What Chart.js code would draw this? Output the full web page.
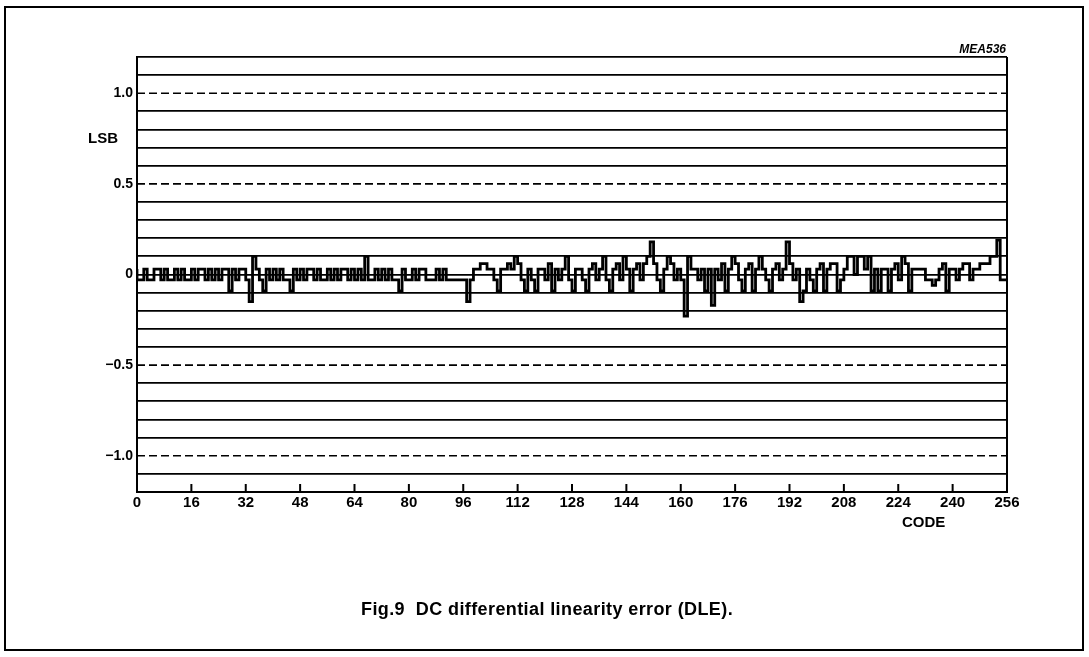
<!DOCTYPE html>
<html>
<head>
<meta charset="utf-8">
<script src="https://cdn.jsdelivr.net/npm/chart.js@4/dist/chart.umd.min.js"></script>
<style>
  body { margin: 0; background: #fff; font-family: "Liberation Sans", Arial, sans-serif; }
  #page { position: relative; width: 1089px; height: 657px; overflow: hidden; }
  #frame { position: absolute; left: 4px; top: 6px; width: 1076px; height: 641px; border: 2px solid #000; }
  #chart { position: absolute; left: 0; top: 0; }
  .txt { position: absolute; color: #000; white-space: nowrap; }
</style>
</head>
<body>
<div id="page">
  <div id="frame"></div>
  <canvas id="chart" width="1089" height="657"></canvas>
  <div class="txt" style="left:88px; top:129px; font-size:15px; font-weight:bold;">LSB</div>
  <div class="txt" style="left:902px; top:513px; font-size:15px; font-weight:bold;">CODE</div>
  <div class="txt" style="right:83px; top:42px; font-size:12px; font-weight:bold; font-style:italic;">MEA536</div>
  <div class="txt" style="left:361px; top:599px; font-size:18px; font-weight:bold; letter-spacing:0.4px;">Fig.9&nbsp;&nbsp;DC differential linearity error (DLE).</div>
</div>
<script>
// DLE per code, LSB
const dleValues = [
    0.03, -0.03, -0.03, 0.03, -0.03, -0.03, 0.03, 0.03, -0.03, 0.03, -0.03, -0.03, 0.03, -0.03, 0.03, -0.03,
    -0.03, 0.03, -0.03, 0.03, 0.03, -0.03, 0.03, -0.03, 0.03, -0.03, 0.03, 0.03, -0.09, 0.03, -0.03, 0.03,
    0.03, -0.03, -0.15, 0.1, 0.03, -0.03, -0.09, 0.03, -0.03, 0.03, -0.03, 0.03, -0.03, -0.03, -0.09, 0.03,
    -0.03, 0.03, -0.03, 0.03, 0.03, -0.03, 0.03, -0.03, -0.03, 0.03, -0.03, 0.03, -0.03, 0.03, 0.03, -0.03,
    0.03, -0.03, 0.03, -0.03, 0.1, -0.03, -0.03, 0.03, -0.03, 0.03, -0.03, 0.03, -0.03, -0.03, -0.09, 0.03,
    -0.03, -0.03, 0.03, -0.03, 0.03, 0.03, -0.03, -0.03, -0.03, 0.03, -0.03, 0.03, -0.03, -0.03, -0.03, -0.03,
    -0.03, -0.03, -0.15, -0.03, 0.03, 0.03, 0.06, 0.06, 0.03, 0.03, -0.03, -0.09, 0.03, 0.03, 0.06, 0.03,
    0.1, 0.06, -0.03, -0.09, 0.03, -0.03, -0.09, 0.03, 0.03, -0.03, 0.06, -0.09, 0.03, -0.03, 0.03, 0.1,
    -0.03, -0.09, 0.03, 0.03, -0.03, -0.09, 0.03, 0.06, -0.03, 0.03, 0.1, -0.03, -0.09, 0.03, 0.06, -0.03,
    0.1, 0.03, -0.09, 0.03, 0.06, -0.03, 0.06, 0.1, 0.18, 0.06, -0.03, -0.09, 0.03, 0.1, 0.06, -0.03,
    0.03, -0.03, -0.23, 0.1, 0.03, 0.03, -0.03, 0.03, -0.09, 0.03, -0.17, 0.03, -0.03, 0.06, -0.09, 0.03,
    0.1, 0.06, -0.03, -0.09, 0.03, 0.06, -0.09, 0.03, 0.1, 0.03, -0.03, -0.09, 0.03, 0.06, -0.03, 0.03,
    0.18, 0.06, -0.03, 0.03, -0.15, -0.09, 0.03, -0.03, -0.09, 0.03, 0.06, -0.09, 0.03, 0.06, 0.06, -0.09,
    -0.03, 0.03, 0.1, 0.1, 0, 0.1, 0.1, 0.03, 0.1, -0.09, 0.03, -0.09, 0.03, 0.03, -0.09, 0.03,
    0.06, -0.03, 0.1, 0.06, -0.09, 0.03, 0.03, 0.03, 0.03, -0.03, -0.03, -0.06, -0.03, 0.03, 0.06, -0.09,
    0.03, 0.03, -0.03, 0.03, 0.06, 0.06, -0.03, 0.03, 0.03, 0.06, 0.06, 0.06, 0.1, 0.1, 0.19, -0.03,
];
const codeMin = 0;
const codeMax = 256;
const codeStep = 16;
const dashedLevels = [1.0, 0.5, -0.5, -1.0];
const yLabelValues = [1.0, 0.5, 0, -0.5, -1.0];
const yLabelTexts = ['1.0', '0.5', '0', '\u22120.5', '\u22121.0'];

const fontFamily = '"Liberation Sans", Arial, sans-serif';

let dlePoints = dleValues.map((v, i) => ({ x: i, y: v }));
dlePoints.push({ x: codeMax, y: dleValues[dleValues.length - 1] });

let datasets = [{
    data: dlePoints,
    stepped: 'after',
    borderColor: '#000',
    borderWidth: 2.8,
    pointRadius: 0,
    fill: false,
}];
dashedLevels.forEach((level) => {
    datasets.push({
        data: [{ x: codeMin, y: level }, { x: codeMax, y: level }],
        borderColor: '#000',
        borderWidth: 1.7,
        borderDash: [8, 4],
        pointRadius: 0,
        fill: false,
    });
});

const isDashed = (value) => dashedLevels.some((l) => Math.abs(l - value) < 1e-6);

const innerTicks = {
    id: 'innerTicks',
    afterDraw(chart) {
        const xScale = chart.scales.x;
        const ctx = chart.ctx;
        const bottom = chart.chartArea.bottom;
        ctx.save();
        ctx.strokeStyle = '#000';
        ctx.lineWidth = 2;
        xScale.ticks.forEach((t) => {
            if (t.value <= codeMin || t.value >= codeMax) return;
            const px = xScale.getPixelForValue(t.value);
            ctx.beginPath();
            ctx.moveTo(px, bottom);
            ctx.lineTo(px, bottom - 8);
            ctx.stroke();
        });
        ctx.restore();
    },
};

const dleChartCanvas = document.getElementById('chart');
const dleChartConfig = {
    type: 'line',
    data: { datasets: datasets },
    options: {
        responsive: false,
        animation: false,
        layout: {
            padding: { left: 0, top: 57, right: 82, bottom: 125 },
        },
        plugins: {
            legend: { display: false },
            tooltip: { enabled: false },
        },
        scales: {
            x: {
                type: 'linear',
                min: codeMin,
                max: codeMax,
                afterFit: (scale) => { scale.height = 40; },
                ticks: {
                    stepSize: codeStep,
                    autoSkip: false,
                    maxRotation: 0,
                    padding: 2,
                    color: '#000',
                    font: { family: fontFamily, size: 15, weight: 'bold' },
                },
                grid: {
                    drawTicks: false,
                    lineWidth: 2,
                    color: (ctx) => (ctx.tick && (ctx.tick.value === codeMin || ctx.tick.value === codeMax)) ? '#000' : 'rgba(0,0,0,0)',
                },
                border: { display: true, color: '#000', width: 2 },
            },
            y: {
                min: -1.2,
                max: 1.2,
                afterFit: (scale) => { scale.width = 137; },
                ticks: {
                    stepSize: 0.1,
                    autoSkip: false,
                    padding: 4,
                    color: '#000',
                    font: { family: fontFamily, size: 14, weight: 'bold' },
                    callback: (value) => {
                        const idx = yLabelValues.findIndex((v) => Math.abs(v - value) < 1e-6);
                        return idx >= 0 ? yLabelTexts[idx] : '';
                    },
                },
                grid: {
                    drawTicks: false,
                    lineWidth: 1.8,
                    color: (ctx) => (ctx.tick && isDashed(ctx.tick.value)) ? 'rgba(0,0,0,0)' : '#000',
                },
                border: { display: true, color: '#000', width: 2 },
            },
        },
    },
    plugins: [innerTicks],
};
const dleChart = new Chart(dleChartCanvas, dleChartConfig);
</script>
</body>
</html>
